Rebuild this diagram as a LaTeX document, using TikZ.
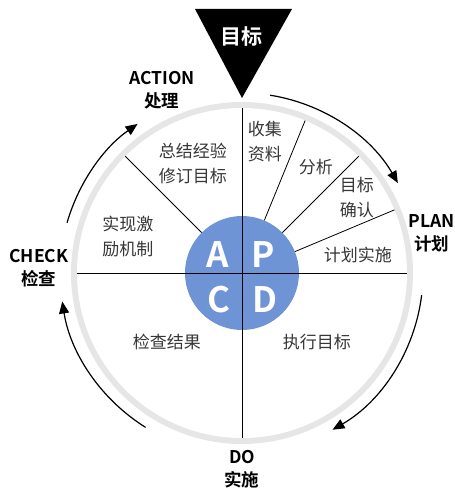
\documentclass[tikz,border=0pt]{standalone}
\usepackage{fontspec}
\setmainfont{Noto Sans CJK SC}[BoldFont={Noto Sans CJK SC Bold}]
\usetikzlibrary{arrows.meta}
\definecolor{apcdblue}{RGB}{110,148,214}
\definecolor{ringgray}{RGB}{230,230,230}
\definecolor{textgray}{RGB}{55,55,55}

\begin{document}
\begin{tikzpicture}[x=1pt, y=1pt,
    phase/.style={font=\bfseries\fontsize{17.5}{23}\selectfont, align=center},
    task/.style={font=\fontsize{17}{25}\selectfont, text=textgray, align=center},
    letter/.style={font=\bfseries\fontsize{35}{35}\selectfont, text=white},
    cycle/.style={line width=1.2pt, -{Triangle[length=12pt, width=10pt]}}]
    \useasboundingbox (-242,-215) rectangle (213,273);

    % goal triangle on top
    \fill[black] (-47,264) -- (50,264) -- (0,175) -- cycle;
    \node[font=\bfseries\fontsize{21}{21}\selectfont, text=white] (goal) at (0,236) {目标};

    % ring and disc
    \fill[ringgray] (0,0) circle (171);
    \fill[white] (0,0) circle (165);
    \node[circle, fill=apcdblue, minimum size=114pt, inner sep=0pt] (apcd) at (0,0) {};

    % rim points
    \foreach \a/\n in {0/east, 90/north, 180/west, 270/south, 67.5/pa, 45/pb, 22.5/pc, 135/aa} {
        \coordinate (rim-\n) at (\a:165);};

    % quadrant lines
    \draw[line width=0.8pt] (rim-west) -- (rim-east);
    \draw[line width=0.8pt] (rim-north) -- (rim-south);
    \foreach \a/\n in {67.5/pa, 45/pb, 22.5/pc, 135/aa} {
        \draw[line width=0.8pt] (apcd.\a) -- (rim-\n);};

    % letters
    \node[letter] (la) at (-24,18) {A};
    \node[letter] (lp) at (21,18) {P};
    \node[letter] (lc) at (-23,-27) {C};
    \node[letter] (ld) at (23,-27) {D};

    % tasks
    \node[task] (collect) at (23,131) {收集\\资料};
    \node[task] (analyse) at (74,106) {分析};
    \node[task] (confirm) at (115,75) {目标\\确认};
    \node[task] (implement) at (116,18) {计划实施};
    \node[task] (summary) at (-49,110) {总结经验\\修订目标};
    \node[task] (reward) at (-114,36) {实现激\\励机制};
    \node[task] (result) at (-75,-69) {检查结果};
    \node[task] (execute) at (75,-69) {执行目标};

    % phases
    \node[phase] (action) at (-80,183) {ACTION\\处理};
    \node[phase] (plan) at (190,40) {PLAN\\计划};
    \node[phase] (check) at (-203,5) {CHECK\\检查};
    \node[phase] (do) at (0,-196) {DO\\实施};

    % cycle arrows
    \draw[cycle] (81:180) arc[start angle=81, end angle=30, radius=180];
    \draw[cycle] (-7:181) arc[start angle=-7, end angle=-60, radius=181];
    \draw[cycle] (-122:182) arc[start angle=-122, end angle=-171, radius=182];
    \draw[cycle] (164:182) arc[start angle=164, end angle=125, radius=182];
\end{tikzpicture}
\end{document}
